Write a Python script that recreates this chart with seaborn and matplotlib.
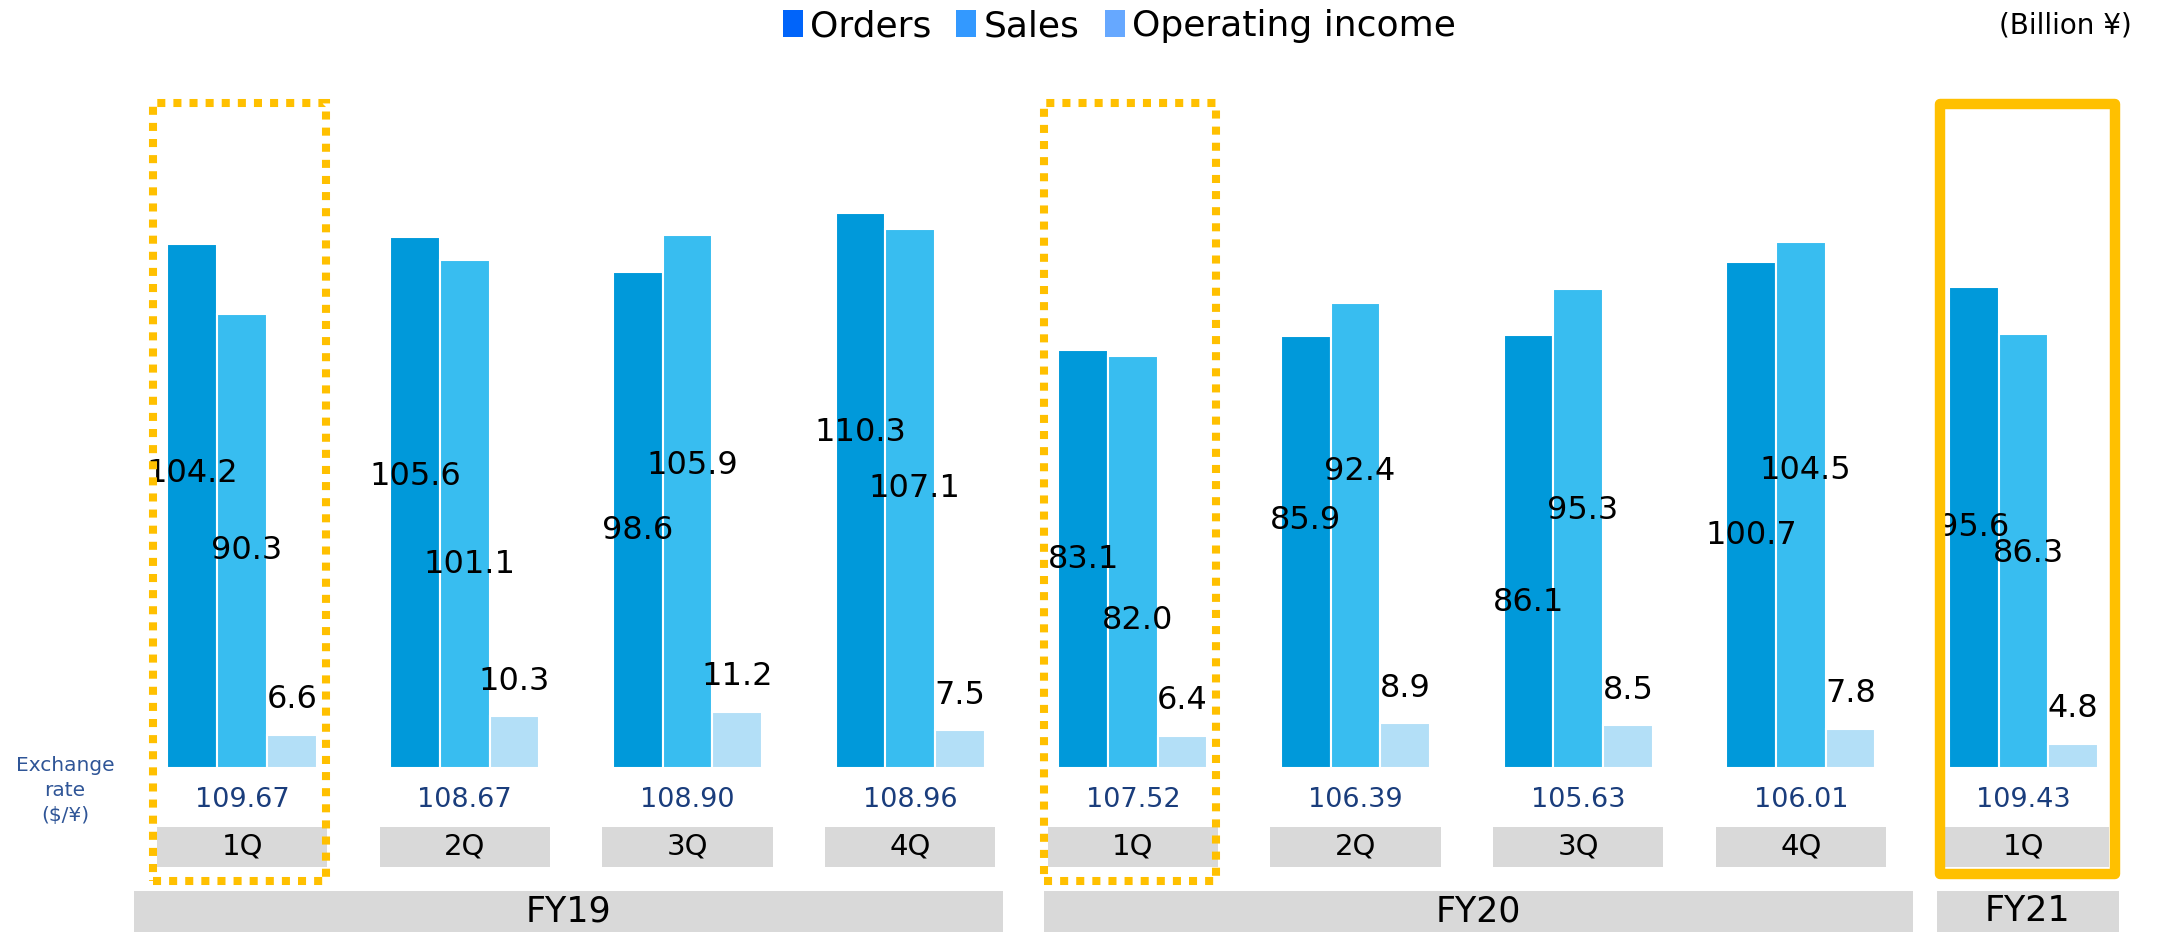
import matplotlib
matplotlib.use("Agg")
import matplotlib.pyplot as plt
from matplotlib.patches import Rectangle, Patch
import pandas as pd
import seaborn as sns

# data (billion yen)
quarters = ["1Q", "2Q", "3Q", "4Q", "1Q", "2Q", "3Q", "4Q", "1Q"]
fiscal_years = ["FY19", "FY20", "FY21"]
fy_of_quarter = ["FY19"] * 4 + ["FY20"] * 4 + ["FY21"]
orders = [104.2, 105.6, 98.6, 110.3, 83.1, 85.9, 86.1, 100.7, 95.6]
sales = [90.3, 101.1, 105.9, 107.1, 82.0, 92.4, 95.3, 104.5, 86.3]
operating_income = [6.6, 10.3, 11.2, 7.5, 6.4, 8.9, 8.5, 7.8, 4.8]
exchange_rates = ["109.67", "108.67", "108.90", "108.96", "107.52",
                  "106.39", "105.63", "106.01", "109.43"]
series = ["Orders", "Sales", "Operating income"]

# layout
bar_colors = ["#0099DA", "#38BDF0", "#B3DFF7"]
legend_colors = ["#0064FA", "#3399FF", "#66A8FF"]
orders_label_y = [58.6, 58.0, 47.3, 66.8, 41.5, 49.2, 33.0, 46.2, 47.9]
sales_label_y = [43.2, 40.4, 60.2, 55.6, 29.4, 58.9, 51.2, 59.1, 42.6]
fy_spans = [(-0.485, 3.417), (3.601, 7.503), (7.611, 8.428)]
grey = "#D9D9D9"
navy = "#1A3D7C"

# long table for seaborn
keys = [f"{fy} {q}" for fy, q in zip(fy_of_quarter, quarters)]
df = pd.DataFrame({
    "period": keys * 3,
    "series": [s for s in series for _ in keys],
    "value": orders + sales + operating_income,
})

sns.set_style("white")
plt.rcParams["font.family"] = ["DejaVu Sans"]
plt.rcParams["text.color"] = "black"

fig = plt.figure(figsize=(21.69, 9.34), dpi=100)
ax = fig.add_axes([0, 0, 1, 1])
sns.barplot(data=df, x="period", y="value", hue="series", order=keys,
            hue_order=series, palette=bar_colors, width=0.67, saturation=1,
            edgecolor="white", linewidth=1.5, legend=False, ax=ax)
ax.set_xlim(-1.087, 8.653)
ax.set_ylim(-33.0, 152.7)
ax.axis("off")

dw = 0.67 / 3
for i in range(len(keys)):
    ax.text(i - dw, orders_label_y[i], f"{orders[i]:.1f}", ha="center",
            va="center", fontsize=23)
    ax.text(i + 0.02, sales_label_y[i], f"{sales[i]:.1f}", ha="center",
            va="center", fontsize=23)
    ax.text(i + dw, operating_income[i] + 7, f"{operating_income[i]:.1f}",
            ha="center", va="center", fontsize=23)
    # exchange rate
    ax.text(i, -6.3, exchange_rates[i], ha="center", va="center",
            fontsize=19.5, color=navy)
    # quarter box
    ax.add_patch(Rectangle((i - 0.382, -19.7), 0.764, 8.0, facecolor=grey,
                           edgecolor="none", clip_on=False, zorder=1))
    ax.text(i, -15.7, quarters[i], ha="center", va="center", fontsize=21)

for fy, (x0, x1) in zip(fiscal_years, fy_spans):
    ax.add_patch(Rectangle((x0, -32.6), x1 - x0, 8.1, facecolor=grey,
                           edgecolor="none", clip_on=False))
    ax.text((x0 + x1) / 2, -28.5, fy, ha="center", va="center", fontsize=25)

ax.text(-0.795, -4.4, "Exchange\nrate\n($/¥)", ha="center", va="center",
        fontsize=14.5, color="#2F5597", linespacing=1.4)

# highlight boxes
for i in [0, 4]:
    ax.add_patch(Rectangle((i - 0.40, -22.5), 0.775, 154.7, fill=False,
                           edgecolor="#FFC000", linewidth=5.8,
                           linestyle=(0, (1, 1)), clip_on=False, zorder=5))
ax.add_patch(Rectangle((8 - 0.377, -21.1), 0.787, 153.1, fill=False,
                       edgecolor="#FFC000", linewidth=7.5,
                       joinstyle="round", clip_on=False, zorder=5))

# legend
handles = [Patch(facecolor=c, edgecolor="none", label=s)
           for c, s in zip(legend_colors, series)]
fig.legend(handles=handles, loc="center", bbox_to_anchor=(0.516, 0.972),
           ncol=3, frameon=False, handlelength=0.55, handleheight=0.75,
           handletextpad=0.2, columnspacing=0.7, fontsize=26)
fig.text(0.952, 0.973, "(Billion ¥)", ha="center", va="center", fontsize=20)

fig.savefig("out.png", dpi=100)
plt.close()
